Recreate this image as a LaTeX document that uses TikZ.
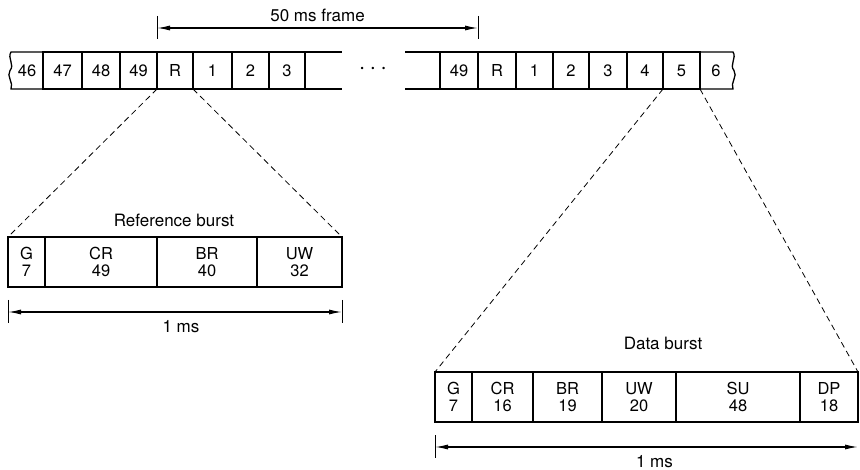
\documentclass[tikz,border=0pt]{standalone}
\usepackage{fontspec}
\setmainfont{TeX Gyre Heros}
\usetikzlibrary{arrows.meta, positioning, calc}

\begin{document}
\begin{tikzpicture}[
  x=1pt, y=-1pt,
  font=\fontsize{16.5}{16}\selectfont,
  >={Latex[length=13pt, width=5pt]},
  cell/.style={
    draw,
    line width=1.3pt,
    outer sep=0pt,
    inner sep=0pt,
    minimum height=37pt
  },
  burstcell/.style={
    cell,
    align=center,
    font=\fontsize{16.5}{17.5}\selectfont,
    minimum height=50pt
  },
  strip/.style={line width=1.3pt},
  zoomline/.style={line width=0.8pt, dash pattern=on 6pt off 4pt},
  span/.style={<->, line width=1.2pt},
  dimtick/.style={line width=0.8pt},
  note/.style={font=\fontsize{17}{18}\selectfont, inner sep=0pt}
]
\useasboundingbox (0,0) rectangle (860,470);

% Frame strip, left part: 46 ... 3
\node (a46) at (27,70.5) {46};
\foreach \lab/\xa/\xb in {47/43/82, 48/82/120, 49/120/157, R/157/193, 1/193/232, 2/232/269, 3/269/305}
  \node[cell, minimum width={(\xb-\xa)*1pt}] (a\lab) at ({(\xa+\xb)/2},70.5) {\lab};

\draw[strip] (a47.north west) -- (11,52)
  .. controls (7,58) and (15,65) .. (10,70.5)
  .. controls (6,76) and (14,83) .. (11,89) -- (a47.south west);
\draw[strip] (a3.north east) -- (342,52);
\draw[strip] (a3.south east) -- (342,89);

\node[font=\fontsize{24}{24}\selectfont] (dots) at (373,71) {·\hspace{4pt}·\hspace{4pt}·};

% Frame strip, right part: 49 ... 6
\foreach \lab/\xa/\xb in {49/440/478, R/478/516, 1/516/553, 2/553/589, 3/589/627, 4/627/663, 5/663/700}
  \node[cell, minimum width={(\xb-\xa)*1pt}] (b\lab) at ({(\xa+\xb)/2},70.5) {\lab};
\node (b6) at (716,70.5) {6};

\draw[strip] (405,52) -- (b49.north west);
\draw[strip] (405,89) -- (b49.south west);
\draw[strip] (b5.north east) -- (733,52)
  .. controls (737,58) and (729,65) .. (734,70.5)
  .. controls (738,76) and (730,83) .. (733,89) -- (b5.south east);

% 50 ms frame
\coordinate (fl) at ($(aR.north west)+(0,-24)$);
\coordinate (fr) at ($(b49.north east)+(0,-24)$);
\draw[dimtick] ($(fl)+(0,-12)$) -- ($(fl)+(0,11)$);
\draw[dimtick] ($(fr)+(0,-12)$) -- ($(fr)+(0,11)$);
\draw[span] (fl) -- node[note, above=6pt]{50 ms frame} (fr);

% Reference burst
\foreach \lab/\num/\xa/\xb in {G/7/8/45, CR/49/45/157, BR/40/157/257, UW/32/257/342}
  \node[burstcell, minimum width={(\xb-\xa)*1pt}] (r\lab) at ({(\xa+\xb)/2},262) {\lab\\\num};
\node[note] (reftitle) at (174,220) {Reference burst};

\draw[zoomline] (aR.south west) -- (rG.north west);
\draw[zoomline] (aR.south east) -- (rUW.north east);

\coordinate (rl) at ($(rG.south west)+(0,25)$);
\coordinate (rr) at ($(rUW.south east)+(0,25)$);
\draw[dimtick] ($(rl)+(0,-12)$) -- ($(rl)+(0,11)$);
\draw[dimtick] ($(rr)+(0,-12)$) -- ($(rr)+(0,11)$);
\draw[span] (rl) -- node[note, below=8pt, xshift=6pt]{1 ms} (rr);

% Data burst
\foreach \lab/\num/\xa/\xb in {G/7/435/472, CR/16/472/533, BR/19/533/602, UW/20/602/676, SU/48/676/800, DP/18/800/858}
  \node[burstcell, minimum width={(\xb-\xa)*1pt}] (d\lab) at ({(\xa+\xb)/2},397) {\lab\\\num};
\node[note] (datatitle) at (663,343) {Data burst};

\draw[zoomline] (b5.south west) -- (dG.north west);
\draw[zoomline] (b5.south east) -- (dDP.north east);

\coordinate (dl) at ($(dG.south west)+(0,25)$);
\coordinate (dr) at ($(dDP.south east)+(0,25)$);
\draw[dimtick] ($(dl)+(0,-12)$) -- ($(dl)+(0,11)$);
\draw[span] (dl) -- node[note, below=8pt, xshift=8pt]{1 ms} (dr);

\end{tikzpicture}
\end{document}
